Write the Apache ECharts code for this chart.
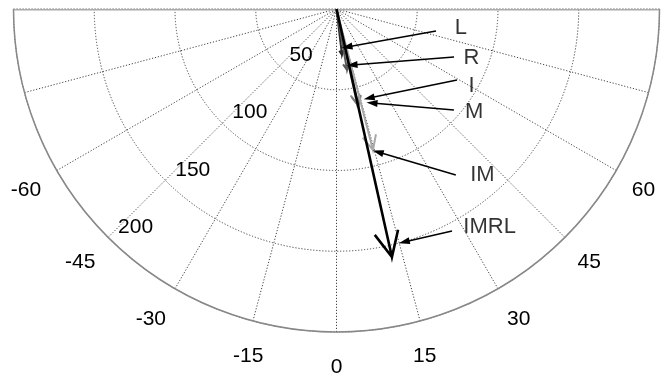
<!DOCTYPE html>
<html>
<head>
<meta charset="utf-8">
<script src="https://cdn.jsdelivr.net/npm/echarts@6/dist/echarts.min.js"></script>
<style>
html,body{margin:0;padding:0;background:#fff;}
#chart{width:668px;height:378px;}
</style>
</head>
<body>
<div id="chart"></div>
<script>
// ---- data ----
const vectorNames = ['L', 'R', 'I', 'M', 'IM', 'IMRL'];
const vectorMagnitudes = [28.7, 38.3, 60.2, 61.5, 90.2, 157.4];
const vectorAngles = [6.8, 9.8, 12.2, 12.8, 14.5, 12.6];
const angleTickLabels = [-60, -45, -30, -15, 0, 15, 30, 45, 60];
const radiusTickLabels = [50, 100, 150, 200];

// ---- layout / style (not data) ----
const vectorColors = ['#2a2a2a', '#5a5a5a', '#8a8a8a', '#7a7a7a', '#a8a8a8', '#000000'];
const vectorWidths = [2, 2, 2, 2, 2, 2.6];
// callout label anchor [radius, angle], pointer start, pointer end (data space)
const calloutLabelPos = [[77.9, 81.5], [88.8, 70.2], [96.2, 60.3], [106.4, 53.2], [136.9, 41.3], [164.9, 35.1]];
const calloutFrom = [[63.1, 77.5], [78.6, 67.8], [86.6, 59.5], [95.9, 49.3], [126.6, 35.7], [154.9, 27.5]];
const calloutTo = [[24.4, 15.4], [36.0, 15.5], [58.7, 20.1], [62.2, 20.7], [92.2, 16.2], [150.2, 16.2]];

const FONT = "'Liberation Sans', Arial, Helvetica, sans-serif";
const gridLine = { color: '#444', width: 1, type: [1.2, 1.8] };

function arrowPoints(r, a) {
  const back = 0.1, side = 0.047;
  const rr = r * Math.sqrt((1 - back) * (1 - back) + side * side);
  const da = Math.atan(side / (1 - back)) * 180 / Math.PI;
  return [[0, a], [r, a], [rr, a + da], [r, a], [rr, a - da]];
}

const vectorSeries = vectorNames.map((n, i) => ({
  name: n,
  type: 'line',
  coordinateSystem: 'polar',
  polarIndex: 0,
  symbol: 'none',
  clip: false,
  z: i === vectorNames.length - 1 ? 6 : 4,
  lineStyle: { color: vectorColors[i], width: vectorWidths[i], join: 'miter', cap: 'butt' },
  data: arrowPoints(vectorMagnitudes[i], vectorAngles[i])
}));

const labelText = { color: '#000', fontSize: 21, fontFamily: FONT };
function richKey(v) {
  const a = Math.abs(v);
  return a <= 15 ? 'c' : a === 30 ? 't' : a === 45 ? 'f' : 's';
}

const chart = echarts.init(document.getElementById('chart'), null, { renderer: 'canvas' });
chart.setOption({
  animation: false,
  backgroundColor: '#fff',
  polar: [
    { center: [336.5, 9], radius: 323 },
    { center: [336.5, 9], radius: 323 }
  ],
  angleAxis: [
    {
      polarIndex: 0,
      type: 'value',
      min: -90, max: 90, interval: 15,
      startAngle: 180, endAngle: 360, clockwise: false,
      axisLine: { show: true, lineStyle: { color: '#888', width: 1.5 } },
      axisTick: { show: false },
      splitLine: { show: true, lineStyle: gridLine },
      axisLabel: {
        show: true, margin: 18,
        color: '#000', fontSize: 21, fontFamily: FONT,
        formatter: v => angleTickLabels.includes(v) ? '{' + richKey(v) + '|' + v + '}' : '',
        rich: {
          c: Object.assign({ padding: [7, 0, 0, 0] }, labelText),
          t: Object.assign({ padding: [4, 0, 0, 0] }, labelText),
          f: Object.assign({ padding: [2, 0, 0, 0] }, labelText),
          s: Object.assign({}, labelText)
        }
      }
    },
    {
      polarIndex: 1,
      type: 'value', min: 0, max: 360,
      startAngle: 225, clockwise: false,
      axisLine: { show: false }, axisTick: { show: false },
      axisLabel: { show: false }, splitLine: { show: false }
    }
  ],
  radiusAxis: [
    {
      polarIndex: 0,
      type: 'value', min: 0, max: 200, interval: 50,
      axisLine: { show: false }, axisTick: { show: false },
      axisLabel: { show: false },
      splitLine: { show: true, lineStyle: gridLine }
    },
    {
      polarIndex: 1,
      type: 'value', min: 0, max: 200, interval: 50,
      axisLine: { show: false }, axisTick: { show: false },
      splitLine: { show: false },
      axisLabel: {
        show: true, margin: 0, align: 'left', verticalAlign: 'bottom',
        padding: [0, 0, 0, 10],
        color: '#000', fontSize: 21, fontFamily: FONT,
        formatter: v => radiusTickLabels.includes(v) ? String(v) : ''
      }
    }
  ],
  series: [
    {
      type: 'line', coordinateSystem: 'polar', polarIndex: 0,
      symbol: 'none', clip: false, z: 1,
      lineStyle: { color: '#aaa', width: 3 },
      data: [[200, -90], [0, 0], [200, 90]]
    },
    ...vectorSeries,
    {
      type: 'scatter', coordinateSystem: 'polar', polarIndex: 0,
      symbolSize: 1, z: 8,
      itemStyle: { color: 'rgba(0,0,0,0)' },
      label: { show: true, position: 'inside', formatter: '{b}', color: '#000', fontSize: 22, fontFamily: FONT },
      data: vectorNames.map((n, i) => ({ name: n, value: calloutLabelPos[i] })),
      markLine: {
        silent: true,
        symbol: ['none', 'triangle'],
        symbolSize: [7, 11],
        lineStyle: { color: '#000', width: 1.5, type: 'solid' },
        label: { show: false },
        data: vectorNames.map((n, i) => [{ coord: calloutFrom[i] }, { coord: calloutTo[i] }])
      }
    }
  ]
});
</script>
</body>
</html>
